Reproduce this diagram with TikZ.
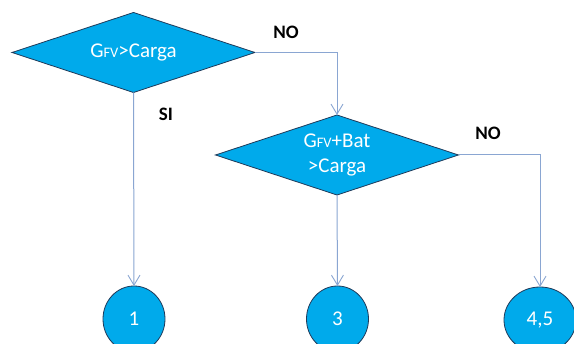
\documentclass[tikz,border=0pt]{standalone}
\usepackage{fontspec}
\setmainfont{Carlito}
\usetikzlibrary{shapes.geometric,arrows.meta}
\definecolor{fillblue}{HTML}{00AAEB}
\definecolor{edgeblue}{HTML}{1F3A5A}
\definecolor{linkblue}{HTML}{8AA6D2}
\tikzset{
  decision/.style={diamond, shape aspect=3, draw=edgeblue, line width=0.8pt, fill=fillblue, text=white,
    minimum width=243pt, minimum height=80pt, inner sep=0pt, outer sep=0pt, align=center,
    font=\fontsize{21}{25}\selectfont},
  terminal/.style={ellipse, draw=edgeblue, line width=0.8pt, fill=fillblue, text=white,
    inner sep=0pt, outer sep=0pt, font=\fontsize{21}{25}\selectfont},
  link/.style={draw=linkblue, line width=1pt, -{Straight Barb[length=10pt,width=12pt,line width=0.9pt]}},
  lbl/.style={font=\bfseries\fontsize{19}{23}\selectfont, text=black}
}
\newcommand{\gfv}{G{\fontsize{14.5}{16}\selectfont FV}}
\begin{document}
\begin{tikzpicture}[x=1pt,y=-1pt]
\useasboundingbox (0,0) rectangle (574,344);
\clip (0,0) rectangle (574,344);
\fill[white] (0,0) rectangle (574,344);
\node[decision] (d1) at (133.5,52.5) {\gfv>Carga};
\node[decision] (d2) at (337,155) {\gfv+Bat\\>Carga};
\node[terminal, minimum width=62pt, minimum height=66pt] (t1) at (134,319) {1};
\node[terminal, minimum width=62pt, minimum height=66pt] (t3) at (337.5,319) {3};
\node[terminal, minimum width=72pt, minimum height=66pt] (t45) at (540,320) {4,5};
\draw[link] (d1.east) -| (d2.north);
\draw[link] (d1.south) -- (t1.north);
\draw[link] (d2.south) -- (t3.north);
\draw[link] (d2.east) -| (t45.north);
\node[lbl] (no1) at (286,32) {NO};
\node[lbl] (si) at (166,114) {SI};
\node[lbl] (no2) at (488,133) {NO};
\end{tikzpicture}
\end{document}
